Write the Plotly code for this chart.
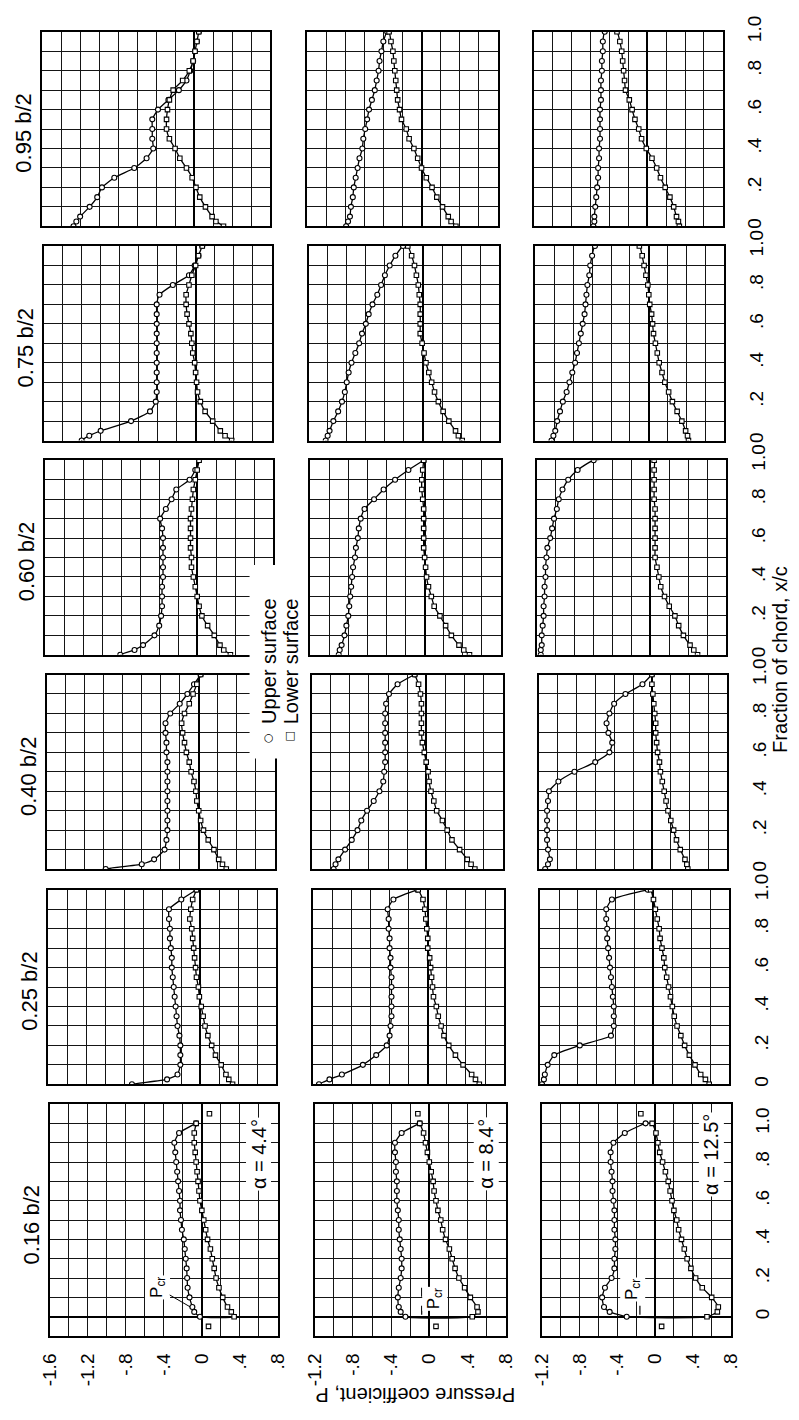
import plotly.graph_objects as go

# ---------------- data ----------------
XC = [0, .025, .05, .1, .15, .2, .25, .3, .35, .4, .45, .5, .55, .6, .65, .7, .75, .8, .85, .9, .95, 1.0]

STATIONS = ["0.95 b/2", "0.75 b/2", "0.60 b/2", "0.40 b/2", "0.25 b/2", "0.16 b/2"]
ALPHAS = ["α = 4.4°", "α = 8.4°", "α = 12.5°"]

P_TICKS_LEFT = [-1.6, -1.2, -0.8, -0.4, 0, 0.4, 0.8]
P_TICKTEXT_LEFT = ["-1.6", "-1.2", "-.8", "-.4", "0", ".4", ".8"]
P_TICKS = [-1.2, -0.8, -0.4, 0, 0.4, 0.8]
P_TICKTEXT = ["-1.2", "-.8", "-.4", "0", ".4", ".8"]
XC_TICKS = [0, .2, .4, .6, .8, 1.0]
XC_TICKTEXT = ["0", ".2", ".4", ".6", ".8", "1.0"]

# 0.95 b/2
U_095_44 = [-1.27, -1.24, -1.2, -1.1, -1.02, -0.97, -0.84, -0.63, -0.5, -0.43, -0.44, -0.44, -0.44, -0.38, -0.27, -0.16, -0.08, -0.04, -0.01, 0.01, 0.03, 0.05]
L_095_44 = [0.31, 0.23, 0.19, 0.12, 0.06, 0.02, -0.02, -0.08, -0.15, -0.2, -0.26, -0.29, -0.29, -0.28, -0.26, -0.22, -0.12, -0.05, -0.01, 0.01, 0.03, 0.05]
U_095_84 = [-0.79, -0.77, -0.75, -0.74, -0.72, -0.71, -0.69, -0.67, -0.65, -0.62, -0.61, -0.59, -0.57, -0.55, -0.52, -0.49, -0.47, -0.45, -0.44, -0.42, -0.40, -0.36]
L_095_84 = [0.36, 0.31, 0.28, 0.22, 0.16, 0.11, 0.05, 0.0, -0.04, -0.08, -0.13, -0.16, -0.21, -0.23, -0.25, -0.26, -0.27, -0.28, -0.29, -0.3, -0.32, -0.34]
U_095_125 = [-0.57, -0.56, -0.56, -0.55, -0.54, -0.53, -0.52, -0.52, -0.51, -0.51, -0.5, -0.5, -0.5, -0.5, -0.49, -0.49, -0.49, -0.48, -0.48, -0.47, -0.47, -0.45]
L_095_125 = [0.34, 0.33, 0.31, 0.28, 0.24, 0.19, 0.14, 0.1, 0.05, -0.01, -0.06, -0.09, -0.13, -0.16, -0.19, -0.23, -0.24, -0.25, -0.26, -0.27, -0.29, -0.32]

# 0.75 b/2
U_075_44 = [-1.2, -1.12, -1.0, -0.68, -0.48, -0.42, -0.41, -0.41, -0.41, -0.41, -0.41, -0.41, -0.41, -0.41, -0.41, -0.41, -0.38, -0.24, -0.07, -0.01, 0.03, 0.07]
L_075_44 = [0.38, 0.31, 0.26, 0.18, 0.1, 0.05, 0.02, 0.01, 0.0, -0.01, -0.03, -0.04, -0.05, -0.07, -0.09, -0.1, -0.1, -0.07, -0.04, 0.0, 0.03, 0.07]
U_075_84 = [-1.02, -1.0, -0.98, -0.94, -0.89, -0.85, -0.82, -0.8, -0.78, -0.75, -0.71, -0.67, -0.64, -0.6, -0.57, -0.53, -0.48, -0.44, -0.4, -0.35, -0.29, -0.21]
L_075_84 = [0.41, 0.37, 0.34, 0.27, 0.21, 0.16, 0.12, 0.09, 0.06, 0.03, 0.01, -0.01, -0.03, -0.03, -0.03, -0.03, -0.04, -0.05, -0.07, -0.09, -0.12, -0.16]
U_075_125 = [-1.03, -1.01, -0.99, -0.97, -0.94, -0.91, -0.87, -0.84, -0.81, -0.78, -0.76, -0.74, -0.72, -0.7, -0.68, -0.67, -0.66, -0.65, -0.63, -0.62, -0.6, -0.57]
L_075_125 = [0.42, 0.41, 0.39, 0.35, 0.3, 0.25, 0.21, 0.17, 0.14, 0.11, 0.09, 0.07, 0.05, 0.04, 0.03, 0.01, 0.0, -0.01, -0.03, -0.05, -0.07, -0.1]

# 0.60 b/2
U_060_44 = [-0.81, -0.66, -0.57, -0.45, -0.4, -0.38, -0.37, -0.37, -0.37, -0.36, -0.36, -0.36, -0.36, -0.36, -0.37, -0.39, -0.33, -0.27, -0.22, -0.08, -0.02, 0.02]
L_060_44 = [0.35, 0.28, 0.24, 0.18, 0.11, 0.05, 0.02, 0.0, -0.02, -0.04, -0.06, -0.06, -0.07, -0.07, -0.07, -0.07, -0.06, -0.05, -0.04, -0.02, 0.0, 0.02]
U_060_84 = [-0.9, -0.89, -0.87, -0.84, -0.82, -0.8, -0.79, -0.78, -0.77, -0.76, -0.75, -0.73, -0.72, -0.7, -0.69, -0.67, -0.63, -0.53, -0.43, -0.31, -0.17, -0.01]
L_060_84 = [0.47, 0.41, 0.36, 0.28, 0.22, 0.16, 0.1, 0.07, 0.04, 0.02, 0.01, 0.0, -0.01, -0.01, -0.01, -0.01, -0.01, -0.02, -0.03, -0.03, -0.02, -0.01]
U_060_125 = [-1.16, -1.16, -1.15, -1.15, -1.14, -1.13, -1.13, -1.12, -1.12, -1.11, -1.11, -1.1, -1.09, -1.06, -1.04, -1.02, -0.99, -0.97, -0.93, -0.87, -0.77, -0.6]
L_060_125 = [0.5, 0.46, 0.42, 0.35, 0.3, 0.26, 0.2, 0.15, 0.11, 0.09, 0.07, 0.05, 0.05, 0.05, 0.05, 0.05, 0.05, 0.04, 0.04, 0.04, 0.04, 0.04]

# 0.40 b/2
U_040_44 = [-0.98, -0.6, -0.47, -0.36, -0.34, -0.33, -0.33, -0.33, -0.33, -0.33, -0.33, -0.33, -0.33, -0.34, -0.34, -0.35, -0.35, -0.3, -0.2, -0.12, -0.05, 0.02]
L_040_44 = [0.29, 0.25, 0.21, 0.16, 0.1, 0.05, 0.02, 0.0, -0.02, -0.03, -0.05, -0.08, -0.1, -0.13, -0.15, -0.17, -0.18, -0.15, -0.1, -0.06, -0.02, 0.02]
U_040_84 = [-0.97, -0.95, -0.92, -0.85, -0.78, -0.72, -0.68, -0.62, -0.55, -0.49, -0.45, -0.44, -0.43, -0.43, -0.43, -0.43, -0.43, -0.43, -0.42, -0.39, -0.3, -0.12]
L_040_84 = [0.51, 0.47, 0.43, 0.35, 0.27, 0.22, 0.17, 0.11, 0.08, 0.05, 0.03, 0.02, 0.0, -0.02, -0.04, -0.05, -0.05, -0.05, -0.05, -0.06, -0.08, -0.12]
U_040_125 = [-1.13, -1.1, -1.08, -1.1, -1.11, -1.11, -1.11, -1.11, -1.1, -1.09, -0.99, -0.82, -0.6, -0.45, -0.42, -0.46, -0.48, -0.45, -0.4, -0.28, -0.1, 0.0]
L_040_125 = [0.38, 0.37, 0.35, 0.3, 0.26, 0.23, 0.2, 0.17, 0.15, 0.13, 0.11, 0.09, 0.08, 0.06, 0.05, 0.04, 0.04, 0.03, 0.02, 0.01, 0.0, 0.0]

# 0.25 b/2
U_025_44 = [-0.72, -0.35, -0.24, -0.21, -0.21, -0.21, -0.22, -0.24, -0.25, -0.26, -0.27, -0.28, -0.29, -0.3, -0.3, -0.31, -0.32, -0.32, -0.33, -0.33, -0.2, -0.04]
L_025_44 = [0.34, 0.3, 0.27, 0.22, 0.16, 0.12, 0.08, 0.05, 0.03, 0.01, -0.01, -0.02, -0.04, -0.05, -0.06, -0.07, -0.08, -0.09, -0.11, -0.1, -0.08, -0.04]
U_025_84 = [-1.14, -1.03, -0.9, -0.68, -0.54, -0.43, -0.4, -0.39, -0.38, -0.38, -0.38, -0.38, -0.38, -0.39, -0.39, -0.4, -0.4, -0.41, -0.41, -0.42, -0.36, -0.11]
L_025_84 = [0.54, 0.5, 0.46, 0.37, 0.29, 0.22, 0.17, 0.14, 0.11, 0.09, 0.06, 0.05, 0.04, 0.03, 0.02, 0.0, 0.0, -0.01, -0.02, -0.03, -0.05, -0.1]
U_025_125 = [-1.18, -1.16, -1.15, -1.12, -1.05, -0.78, -0.45, -0.42, -0.42, -0.42, -0.43, -0.44, -0.45, -0.46, -0.47, -0.48, -0.49, -0.49, -0.5, -0.5, -0.44, -0.06]
L_025_125 = [0.59, 0.55, 0.5, 0.44, 0.38, 0.33, 0.29, 0.25, 0.22, 0.2, 0.18, 0.16, 0.14, 0.12, 0.11, 0.09, 0.07, 0.06, 0.04, 0.02, 0.0, -0.03]

# 0.16 b/2
U_016_44 = [-0.02, -0.08, -0.1, -0.13, -0.15, -0.155, -0.16, -0.17, -0.18, -0.19, -0.21, -0.22, -0.23, -0.23, -0.24, -0.25, -0.26, -0.27, -0.28, -0.29, -0.24, -0.06]
L_016_44 = [0.34, 0.31, 0.27, 0.22, 0.18, 0.15, 0.13, 0.11, 0.09, 0.06, 0.04, 0.02, 0.0, -0.02, -0.03, -0.04, -0.05, -0.06, -0.07, -0.08, -0.08, -0.06]
U_016_84 = [-0.25, -0.3, -0.32, -0.33, -0.32, -0.3, -0.29, -0.29, -0.3, -0.31, -0.32, -0.32, -0.33, -0.34, -0.34, -0.34, -0.35, -0.35, -0.36, -0.36, -0.29, -0.1]
L_016_84 = [0.45, 0.51, 0.5, 0.43, 0.37, 0.31, 0.27, 0.24, 0.21, 0.17, 0.14, 0.12, 0.09, 0.07, 0.05, 0.04, 0.02, 0.0, -0.02, -0.04, -0.06, -0.1]
U_016_125 = [-0.3, -0.48, -0.54, -0.56, -0.53, -0.46, -0.43, -0.43, -0.42, -0.42, -0.43, -0.43, -0.43, -0.44, -0.45, -0.45, -0.46, -0.47, -0.47, -0.44, -0.32, -0.1]
L_016_125 = [0.55, 0.66, 0.67, 0.6, 0.5, 0.43, 0.38, 0.34, 0.31, 0.28, 0.25, 0.23, 0.2, 0.18, 0.16, 0.14, 0.11, 0.08, 0.05, 0.03, 0.01, -0.03]

# isolated lower-surface points ahead of / behind the chord at 0.16 b/2
EXTRA_XC = [-0.05, 1.05]
EXTRA_P_44 = [0.07, 0.08]
EXTRA_P_84 = [0.07, -0.12]
EXTRA_P_125 = [0.07, -0.15]

# critical pressure coefficient marks at 0.16 b/2
PCR = [-0.47, -0.08, -0.16]

UPPER = [[U_095_44, U_095_84, U_095_125], [U_075_44, U_075_84, U_075_125],
         [U_060_44, U_060_84, U_060_125], [U_040_44, U_040_84, U_040_125],
         [U_025_44, U_025_84, U_025_125], [U_016_44, U_016_84, U_016_125]]
LOWER = [[L_095_44, L_095_84, L_095_125], [L_075_44, L_075_84, L_075_125],
         [L_060_44, L_060_84, L_060_125], [L_040_44, L_040_84, L_040_125],
         [L_025_44, L_025_84, L_025_125], [L_016_44, L_016_84, L_016_125]]
EXTRA_P = [EXTRA_P_44, EXTRA_P_84, EXTRA_P_125]

# ---------------- layout geometry (pixels) ----------------
FONT = "Liberation Sans"
W, H = 799, 1420
COL_L = [40, 312, 545]
COL_R = [274, 508, 739]
ROW_T = [16, 233, 450, 667, 885, 1102]
ROW_H = [197, 197, 197, 197, 197, 235]
SKEW = 1.6
GRID = "#151515"

fig = go.Figure()
layout = dict(width=W, height=H, margin=dict(l=0, r=0, t=0, b=0),
              paper_bgcolor="white", plot_bgcolor="white", showlegend=False)
annotations = []
shapes = []


def fx(px):
    return px / W


def fy(py):
    return 1 - py / H


def txt(x, y, text, size=20, angle=-90, xref="paper", yref="paper", family=FONT, **kw):
    d = dict(x=x, y=y, xref=xref, yref=yref, text=text, textangle=angle, showarrow=False,
             xanchor="center", yanchor="middle",
             font=dict(family=family, size=size, color="black"))
    d.update(kw)
    return d


for r in range(6):
    shift = -(5 - r) * SKEW
    top, h = ROW_T[r], ROW_H[r]
    yr = [-0.1, 1.1] if r == 5 else [0, 1]
    for c in range(3):
        k = r * 3 + c
        sfx = "" if k == 0 else str(k + 1)
        xn, yn = "x" + sfx, "y" + sfx
        pmin = -1.6 if c == 0 else -1.2
        layout["xaxis" + sfx] = dict(
            domain=[fx(COL_L[c] + shift), fx(COL_R[c] + shift)],
            range=[pmin, 0.8], anchor=yn,
            tickmode="array",
            tickvals=P_TICKS_LEFT if c == 0 else P_TICKS,
            ticktext=P_TICKTEXT_LEFT if c == 0 else P_TICKTEXT,
            showticklabels=(r == 5), tickangle=-90, ticks="",
            ticklabelstandoff=8,
            tickfont=dict(family=FONT, size=19, color="black"),
            showgrid=True, gridcolor=GRID, gridwidth=1.2,
            minor=dict(dtick=0.2, tick0=0, showgrid=True, gridcolor=GRID, gridwidth=1.2, ticks=""),
            zeroline=True, zerolinecolor="black", zerolinewidth=2.4,
            showline=True, linecolor="black", linewidth=1.8, mirror=True,
            fixedrange=True,
        )
        layout["yaxis" + sfx] = dict(
            domain=[fy(top + h), fy(top)],
            range=yr, anchor=xn, side="right",
            tickmode="array", tickvals=XC_TICKS, ticktext=XC_TICKTEXT,
            showticklabels=(c == 2), tickangle=-90, ticks="",
            ticklabelstandoff=14,
            tickfont=dict(family=FONT, size=19, color="black"),
            showgrid=True, gridcolor=GRID, gridwidth=1.2,
            minor=dict(dtick=0.1, tick0=0, showgrid=True, gridcolor=GRID, gridwidth=1.2, ticks=""),
            zeroline=True, zerolinecolor="black", zerolinewidth=2.4,
            showline=True, linecolor="black", linewidth=1.8, mirror=True,
            fixedrange=True,
        )

        U = UPPER[r][c]
        Lw = LOWER[r][c]
        loop_x = U + Lw[::-1] + [U[0]]
        loop_y = XC + XC[::-1] + [XC[0]]
        fig.add_trace(go.Scatter(x=loop_x, y=loop_y, mode="lines", xaxis=xn, yaxis=yn,
                                 line=dict(color="black", width=1.3, shape="spline", smoothing=0.5),
                                 hoverinfo="skip"))
        fig.add_trace(go.Scatter(x=U, y=XC, mode="markers", xaxis=xn, yaxis=yn,
                                 marker=dict(symbol="circle", size=5, color="white",
                                             line=dict(color="black", width=1.1)),
                                 hoverinfo="skip"))
        fig.add_trace(go.Scatter(x=Lw, y=XC, mode="markers", xaxis=xn, yaxis=yn,
                                 marker=dict(symbol="square", size=4.5, color="white",
                                             line=dict(color="black", width=1.1)),
                                 hoverinfo="skip"))

        if r == 5:
            fig.add_trace(go.Scatter(x=EXTRA_P[c], y=EXTRA_XC, mode="markers", xaxis=xn, yaxis=yn,
                                     marker=dict(symbol="square", size=4.5, color="white",
                                                 line=dict(color="black", width=1.1)),
                                     hoverinfo="skip"))
            # alpha label written over the P = 0.6 grid line
            annotations.append(txt(0.6, 0.84, ALPHAS[c], size=20, xref=xn, yref=yn,
                                   bgcolor="white"))
            # P_cr marks
            if c == 0:
                annotations.append(dict(x=-0.12, y=0.05, xref=xn, yref=yn,
                                        ax=PCR[c], ay=0.15, axref=xn, ayref=yn,
                                        text="P<sub>cr</sub>", textangle=-90, showarrow=True,
                                        arrowhead=0, arrowwidth=1, arrowcolor="black",
                                        bgcolor="white", xanchor="center", yanchor="middle",
                                        font=dict(family=FONT, size=17, color="black")))
            else:
                fig.add_trace(go.Scatter(x=[PCR[c], PCR[c]], y=[0.01, 0.15 if c == 1 else 0.09],
                                         mode="lines", xaxis=xn, yaxis=yn,
                                         line=dict(color="black", width=1.2, dash="dash"),
                                         hoverinfo="skip"))
                annotations.append(txt(0.06 if c == 1 else -0.24, 0.09 if c == 1 else 0.14,
                                       "P<sub>cr</sub>", size=17, xref=xn, yref=yn,
                                       bgcolor="white"))

    # station label to the left of each row
    cy = top + (h - (39 if r == 5 else 0)) / 2 + (19.6 if r == 5 else 0) + 4
    annotations.append(txt(fx(21 + shift), fy(cy), STATIONS[r], size=22))

# legend cut-out and entries between the first two columns
shapes.append(dict(type="rect", xref="paper", yref="paper", layer="above",
                   x0=fx(245), x1=fx(280), y0=fy(752), y1=fy(556),
                   fillcolor="white", line=dict(width=0)))
annotations.append(txt(fx(265), fy(731), "○", size=11, angle=0, family="DejaVu Sans"))
annotations.append(txt(fx(287), fy(729), "□", size=11, angle=0, family="DejaVu Sans"))
annotations.append(txt(fx(265), fy(719), "Upper surface", size=20, yanchor="bottom"))
annotations.append(txt(fx(287), fy(719), "Lower surface", size=20, yanchor="bottom"))

# axis titles
annotations.append(txt(fx(415), fy(1396), "Pressure coefficient, P", size=20, angle=180))
annotations.append(txt(fx(789), fy(652), "Fraction of chord, x/c", size=20))

layout["annotations"] = annotations
layout["shapes"] = shapes
fig.update_layout(**layout)
fig.write_html("out.html")
